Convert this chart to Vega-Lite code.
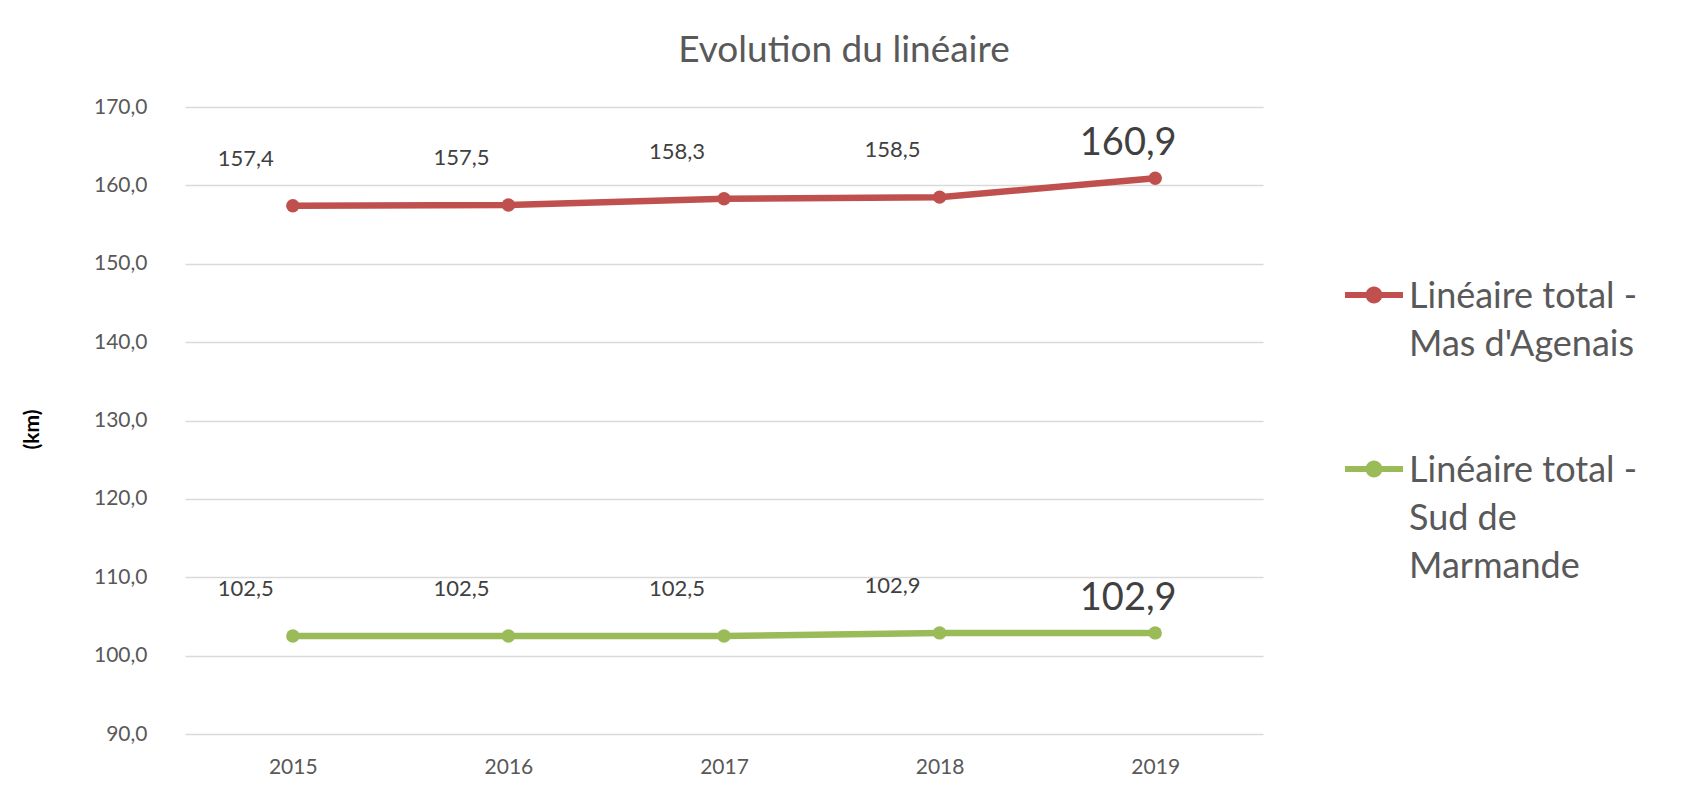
{
  "$schema": "https://vega.github.io/schema/vega-lite/v6.json",
  "width": 1078,
  "height": 627,
  "autosize": {"type": "none"},
  "padding": {"left": 185, "top": 107, "right": 420, "bottom": 61},
  "background": "white",
  "title": {
    "text": "Evolution du linéaire",
    "font": "Lato",
    "fontSize": 37,
    "fontWeight": "normal",
    "color": "#595959",
    "anchor": "middle",
    "baseline": "middle",
    "dx": 120,
    "offset": 8
  },
  "config": {
    "locale": {"number": {"decimal": ",", "thousands": " ", "grouping": [3], "currency": ["", " €"]}},
    "view": {"stroke": null},
    "font": "Lato"
  },
  "data": {
    "values": [
      {"year": "2015", "serie": "Linéaire total - Mas d'Agenais", "value": 157.4},
      {"year": "2016", "serie": "Linéaire total - Mas d'Agenais", "value": 157.5},
      {"year": "2017", "serie": "Linéaire total - Mas d'Agenais", "value": 158.3},
      {"year": "2018", "serie": "Linéaire total - Mas d'Agenais", "value": 158.5},
      {"year": "2019", "serie": "Linéaire total - Mas d'Agenais", "value": 160.9},
      {"year": "2015", "serie": "Linéaire total - Sud de Marmande", "value": 102.5},
      {"year": "2016", "serie": "Linéaire total - Sud de Marmande", "value": 102.5},
      {"year": "2017", "serie": "Linéaire total - Sud de Marmande", "value": 102.5},
      {"year": "2018", "serie": "Linéaire total - Sud de Marmande", "value": 102.9},
      {"year": "2019", "serie": "Linéaire total - Sud de Marmande", "value": 102.9}
    ]
  },
  "encoding": {
    "x": {
      "field": "year",
      "type": "ordinal",
      "scale": {"padding": 0.5},
      "axis": {
        "title": null,
        "labelAngle": 0,
        "labelFontSize": 21,
        "labelColor": "#595959",
        "labelPadding": 22,
        "ticks": false,
        "domain": false,
        "grid": false
      }
    },
    "y": {
      "field": "value",
      "type": "quantitative",
      "scale": {"domain": [90, 170], "nice": false, "zero": false},
      "axis": {
        "title": "(km)",
        "titleFontWeight": "bold",
        "titleFontSize": 21,
        "titleColor": "#000000",
        "titleX": -153,
        "titleY": 322,
        "titleAngle": -90,
        "titleAlign": "center",
        "titleBaseline": "middle",
        "values": [90, 100, 110, 120, 130, 140, 150, 160, 170],
        "format": ".1f",
        "labelFontSize": 21,
        "labelColor": "#595959",
        "labelPadding": 38,
        "ticks": false,
        "domain": false,
        "gridColor": "#D9D9D9",
        "gridWidth": 1.5
      }
    },
    "color": {
      "field": "serie",
      "type": "nominal",
      "scale": {
        "domain": ["Linéaire total - Mas d'Agenais", "Linéaire total - Sud de Marmande"],
        "range": ["#C0504D", "#9BBB59"]
      },
      "legend": {
        "title": null,
        "orient": "none",
        "legendX": 1160,
        "legendY": 144,
        "symbolType": "M-1,-0.1H1V0.1H-1Z M-0.29,0 A0.29,0.29 0 1,1 0.29,0 A0.29,0.29 0 1,1 -0.29,0Z",
        "symbolSize": 3364,
        "symbolStrokeWidth": 0,
        "labelFontSize": 36,
        "labelColor": "#595959",
        "labelOffset": 6,
        "labelLimit": 500,
        "labelBaseline": "top",
        "rowPadding": 62,
        "labelExpr": "test(/Mas/, datum.label) ? [\"Linéaire total -\", \"Mas d'Agenais\"] : [\"Linéaire total -\", \"Sud de\", \"Marmande\"]",
        "encode": {
          "symbols": {
            "update": {
              "fill": {"scale": "color", "field": "value"},
              "y": {"value": 44}
            }
          },
          "labels": {
            "update": {
              "lineHeight": {"value": 48}
            }
          }
        }
      }
    }
  },
  "layer": [
    {"mark": {"type": "line", "strokeWidth": 6.5}},
    {"mark": {"type": "point", "filled": true, "size": 180, "opacity": 1}},
    {
      "transform": [{"filter": "datum.year != '2019'"}],
      "mark": {"type": "text", "fontSize": 22, "dx": -47, "dy": -47, "font": "Lato"},
      "encoding": {
        "text": {"field": "value", "type": "quantitative", "format": ".1f"},
        "color": {"value": "#404040"}
      }
    },
    {
      "transform": [{"filter": "datum.year == '2019'"}],
      "mark": {"type": "text", "fontSize": 38, "dx": -27, "dy": -34, "font": "Lato"},
      "encoding": {
        "text": {"field": "value", "type": "quantitative", "format": ".1f"},
        "color": {"value": "#404040"}
      }
    }
  ]
}
